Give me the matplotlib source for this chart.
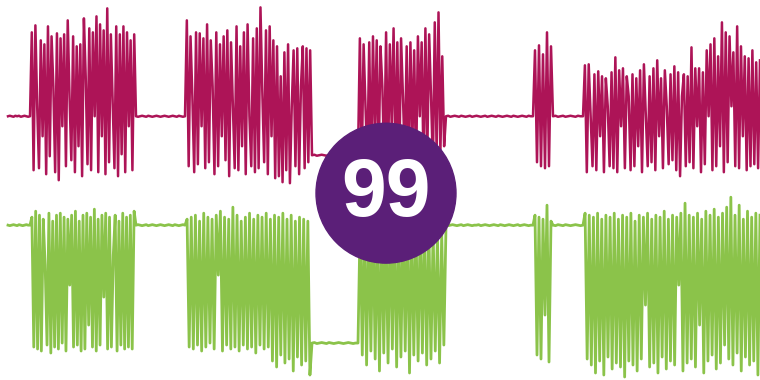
import numpy as np
import matplotlib
matplotlib.use("Agg")
import matplotlib.pyplot as plt
from matplotlib.patches import Circle

# time marks where each recording segment starts / ends
seg_edges = [8, 30, 136, 185, 312, 358, 446, 533, 553, 583, 760]

# channel 1 (magenta) amplitudes per segment
m_rest1 = [0, 0.5, 0, -0.5, 0.5, 0, 0.5, -0.5, 0, 0.5, 0, -0.5, 0]
m_b1 = [0, 84, -54, 91, 10, -52, 76, -20, 72, -58, 90, -40, 80, 30, -56, 83, -64, 78, -10, 82,
        -50, 96, 20, -44, 80, -56, 70, -30, 72, -60, 98, 40, -48, 88, -54, 84, 0, 100, -56, 92,
        -20, 86, -58, 108, -46, 82, 15, -52, 90, -60, 82, -38, 90, -56, 84, -10, 76, -54, 82, 0]
m_rest2 = [0, -0.5, 0, 0.5, 0, -0.5, 0.5, 0, -0.5, 0, 0.5, 0, -0.5, 0, 0.5, 0, -0.5, 0, 0.5,
           0, -0.5, 0.5, 0, -0.5, 0]
m_b2 = [0, 96, -50, 80, 20, -56, 84, -48, 83, -10, 78, -52, 92, -46, 76, 30, -58, 84, -50, 72,
        -20, 80, -44, 86, -60, 74, 10, -52, 90, -54, 70, -30, 84, -58, 92, 0, -50, 78, -56, 88,
        -52, 109, 25, -46, 86, -58, 90, -20, 76, -62, 70, -60, 40, -66, 64, -54, 72, -67, 10, 66,
        -50, 68, -58, 30, 70, -52, 68, -46, 66, -39]
m_low = [-39, -38.5, -39.5, -39, -38.5, -39, -39.5, -38.5, -39, -39.5, -39, -38.5, -39,
         -39.5, -39, -38.5, -39, -39.5, -39, -39]
m_b3 = [-39, 78, -50, 72, 10, -46, 74, -56, 80, -20, 76, -52, 70, 30, -48, 84, -54, 72, -10, 88,
        -46, 74, -58, 78, 20, -42, 70, -52, 74, -30, 66, -56, 80, 0, 74, -50, 88, -40, 82, 20,
        -48, 94, -38, 104, -36, 60, -30, 0]
m_rest3 = [0, 0.5, -0.5, 0, 0.5, 0, -0.5, 0.5, 0, -0.5, 0, 0.5, -0.5, 0, 0.5, 0, -0.5, 0,
           0.5, -0.5, 0, 0.5, 0, -0.5, 0.5, 0, -0.5, 0, 0.5, 0, -0.5, 0.5, 0, -0.5, 0, 0.5,
           0, -0.5, 0.5, 0, 0]
m_b4 = [0, 66, -46, 71, -50, 62, -52, 84, -50, 70, 0]
m_rest4 = [0, 0.5, -0.5, 0, 0.5, -0.5, 0, 0.5, 0, -0.5, 0.5, 0, 0]
m_b5 = [0, 51, -56, 52, 0, -50, 42, -54, 45, -20, 40, -56, 38, 10, -50, 44, -52, 59, -56, 46,
        -10, 48, -52, 40, 20, -54, 42, -50, 38, -30, 46, -56, 52, 0, -50, 40, -46, 48, -54, 56,
        -20, 38, -52, 46, 10, -48, 42, -44, 50, -54, 44, -60, 20, 42, -50, 40, -46, 69, -52, 48,
        -10, 48, -56, 44, -48, 66, 0, 72, -54, 78, -50, 60, -30, 94, -56, 84, -46, 80, 10, 64,
        -50, 90, -52, 70, -20, 60, -54, 58, -50, 66, -48, 54, -52, 56]

# channel 2 (green) amplitudes per segment
g_rest1 = [0, -0.5, 0, 0.5, 0, -0.5, 0.5, 0, -0.5, 0, 0.5, 0, 0]
g_b1 = [0, 8, -122, 14, -124, 10, -126, 6, -40, -120, 12, -128, 4, -122, 10, -124, 12, -118, 8,
        -126, 6, -60, 10, -122, 14, -120, 4, -126, 10, -124, 12, -100, 8, -122, 16, -126, 6,
        -120, 10, -72, 12, -124, 8, -122, -30, 10, -126, 4, -120, 12, -124, 8, -122, 10, -124, 14, 0]
g_rest2 = [0, 0.5, 0, -0.5, 0, 0.5, -0.5, 0, 0.5, 0, -0.5, 0, 0.5, 0, -0.5, 0, 0.5, 0,
           -0.5, 0.5, 0, -0.5, 0, 0.5, 0]
g_b2 = [0, 6, -122, 8, -124, 10, -120, 4, -126, 12, -122, 8, -118, 6, -124, 10, -50, 14,
        -126, 8, -120, 6, -124, 18, -122, 10, -126, 4, -120, 8, -124, 12, -122, 6, -128, 10,
        -120, 8, -124, 12, -122, 6, -136, 10, -142, 8, -130, 12, -138, 6, -134, 10, -146, 4,
        -132, 8, -140, 6, -136, 4, -150, -118]
g_low = [-118, -117.5, -118.5, -118, -117.5, -118, -118.5, -117.5, -118, -118.5, -118,
         -117.5, -118, -118.5, -118, -117.5, -118, -118.5, -118, -118]
g_b3 = [-118, 4, -130, 8, -140, 6, -126, 10, -134, 4, -146, 8, -128, 6, -138, 10, -124, 8,
        -142, 4, -132, 6, -126, 10, -148, 8, -130, 4, -136, 6, -128, 10, -140, 2, -134, -4,
        -126, -6, -138, -8, -120, 0]
g_rest3 = [0, -0.5, 0, 0.5, 0, -0.5, 0, 0.5, -0.5, 0, 0.5, 0, -0.5, 0, 0, 0.5, -0.5, 0,
           0.5, 0, -0.5, 0, 0.5, 0, -0.5, 0.5, 0, -0.5, 0, 0.5, 0, -0.5, 0, 0.5, -0.5, 0,
           0.5, 0, -0.5, 0, 0]
g_b4 = [0, 10, -130, 8, -134, 6, -90, 20, -137, 4, 0]
g_rest4 = [0, -0.5, 0.5, 0, -0.5, 0.5, 0, -0.5, 0, 0.5, 0, -0.5, 0]
g_b5 = [0, 12, -134, 10, -140, 8, -148, 12, -136, 6, -150, 10, -132, 8, -144, 12, -138, 6,
        -142, 10, -152, 8, -136, 12, -140, 4, -146, 10, -134, 8, -80, 12, -142, 6, -138, 10,
        -148, 8, -132, 14, -144, 6, -136, 10, -140, 8, -60, 12, -146, 22, -138, 10, -134, 8,
        -142, 12, -100, 6, -148, 14, -136, 10, -130, 16, -144, 8, -138, 12, -120, 18, -134, 28,
        -140, 10, -128, 20, -146, 6, -132, 14, -140, 8, -136, 12, -150, 10]

magenta_segments = [m_rest1, m_b1, m_rest2, m_b2, m_low, m_b3, m_rest3, m_b4, m_rest4, m_b5]
green_segments = [g_rest1, g_b1, g_rest2, g_b2, g_low, g_b3, g_rest3, g_b4, g_rest4, g_b5]

badge_text = "99"


def build_trace(segments):
    ts, vs = [], []
    for i, vals in enumerate(segments):
        t = np.linspace(seg_edges[i], seg_edges[i + 1], len(vals))
        ts.append(t)
        vs.append(np.array(vals, dtype=float))
    return np.concatenate(ts), np.concatenate(vs)


fig = plt.figure(figsize=(7.6, 3.8), dpi=100)
ax = fig.add_axes([0, 0, 1, 0.999])
ax.set_xlim(0, 760)
ax.set_ylim(-380, 0)
ax.axis("off")

t_m, v_m = build_trace(magenta_segments)
t_g, v_g = build_trace(green_segments)

# channel baselines
ax.plot(t_m, v_m - 116, color="#ad1457", lw=1.8, zorder=2)
ax.plot(t_g, v_g - 225, color="#8bc34a", lw=2.0, zorder=2)

badge = Circle((386, -193), 70, color="#5b1f78", zorder=5)
ax.add_patch(badge)
ax.text(386, -195, badge_text, color="white", ha="center", va="center",
        fontsize=58, fontweight="bold", family=["Liberation Sans", "DejaVu Sans"], zorder=6)

fig.savefig("out.png", dpi=100, facecolor="white")
